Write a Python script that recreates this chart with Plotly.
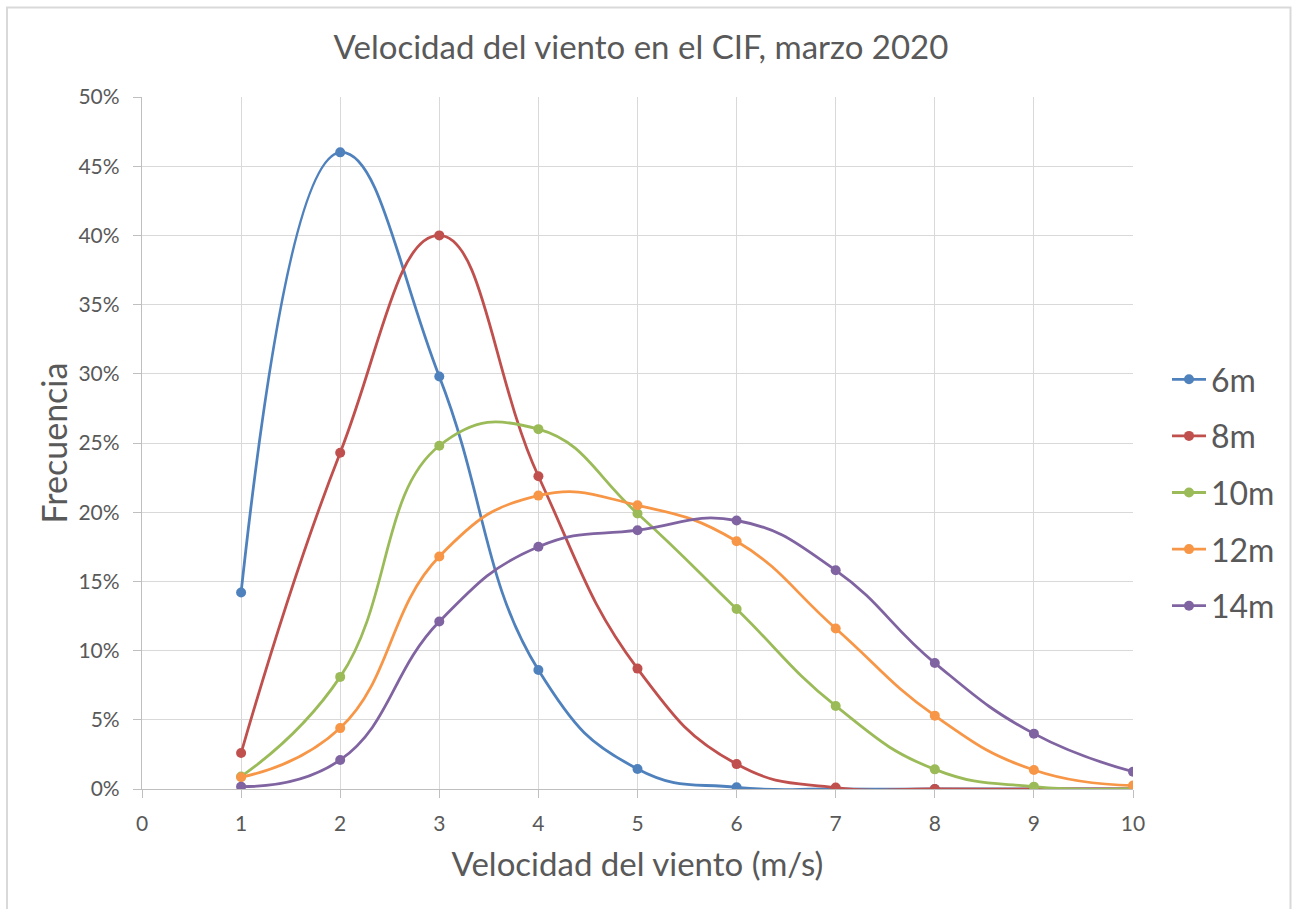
import plotly.graph_objects as go

speeds = [1, 2, 3, 4, 5, 6, 7, 8, 9, 10]
freq_6m = [0.142, 0.460, 0.298, 0.086, 0.0145, 0.0012, 0.0, 0.0, 0.0, 0.0]
freq_8m = [0.026, 0.243, 0.400, 0.226, 0.087, 0.018, 0.001, 0.0, 0.0, 0.0]
freq_10m = [0.009, 0.081, 0.248, 0.260, 0.199, 0.130, 0.060, 0.0142, 0.0017, 0.0003]
freq_12m = [0.0085, 0.044, 0.168, 0.212, 0.205, 0.179, 0.116, 0.053, 0.0137, 0.0025]
freq_14m = [0.0017, 0.021, 0.121, 0.175, 0.187, 0.194, 0.158, 0.091, 0.040, 0.0125]

series_names = ["6m", "8m", "10m", "12m", "14m"]
series_values = [freq_6m, freq_8m, freq_10m, freq_12m, freq_14m]
colors = ["#4F81BD", "#C0504D", "#9BBB59", "#F79646", "#8064A2"]

x_ticks = list(range(0, 11))
y_ticks = [0, 0.05, 0.10, 0.15, 0.20, 0.25, 0.30, 0.35, 0.40, 0.45, 0.50]

FONT = "Lato"
TXT = "#595959"
GRID = "#d9d9d9"

fig = go.Figure()
for name, vals, col in zip(series_names, series_values, colors):
    fig.add_trace(go.Scatter(
        x=speeds, y=vals, name=name, mode="lines+markers",
        line=dict(color=col, width=2.8, shape="spline", smoothing=1.3),
        marker=dict(color=col, size=10),
        legendgroup=name,
    ))

W, H = 1296, 909
L, R, T, B = 142, 163, 97, 120
pw, ph = W - L - R, H - T - B

def px2paper_x(px):
    return (px - L) / pw

def px2paper_y(py):
    return (H - B - py) / ph

fig.update_layout(
    width=W, height=H,
    margin=dict(l=L, r=R, t=T, b=B, autoexpand=False),
    paper_bgcolor="white", plot_bgcolor="white",
    font=dict(family=FONT, color=TXT),
    title=dict(text="Velocidad del viento en el CIF, marzo 2020",
               x=px2paper_x(641), xref="paper", xanchor="center",
               y=1 - 47 / H, yanchor="middle", yref="container",
               font=dict(size=33, color=TXT, family=FONT)),
    xaxis=dict(
        range=[0, 10], tickvals=x_ticks, ticktext=[str(v) for v in x_ticks],
        showgrid=True, gridcolor=GRID, gridwidth=1.3,
        showline=True, linecolor="#bfbfbf", linewidth=1.3,
        ticks="outside", ticklen=8, tickcolor="#bfbfbf",
        ticklabelstandoff=8,
        tickfont=dict(size=21, color=TXT), zeroline=False,
        title=dict(text="Velocidad del viento (m/s)", font=dict(size=33, color=TXT), standoff=18),
    ),
    yaxis=dict(
        range=[0, 0.5], tickvals=y_ticks, tickformat=".0%",
        showgrid=True, gridcolor=GRID, gridwidth=1.3,
        showline=True, linecolor="#bfbfbf", linewidth=1.3,
        ticks="outside", ticklen=8, tickcolor="#bfbfbf",
        ticklabelstandoff=9,
        tickfont=dict(size=21, color=TXT), zeroline=False,
        title=dict(text="Frecuencia", font=dict(size=34, color=TXT), standoff=0),
    ),
    legend=dict(
        x=px2paper_x(1167), xanchor="left", y=px2paper_y(352), yanchor="top",
        font=dict(size=32, color=TXT, family=FONT),
        traceorder="grouped", tracegroupgap=12,
        bgcolor="rgba(0,0,0,0)", itemwidth=34,
    ),
    shapes=[dict(
        type="rect", xref="paper", yref="paper",
        x0=px2paper_x(7), x1=px2paper_x(1290.5),
        y0=px2paper_y(930), y1=px2paper_y(7.5),
        line=dict(color="#d9d9d9", width=2), fillcolor="rgba(0,0,0,0)",
        layer="below",
    )],
)

fig.write_html("out.html", config={"displayModeBar": False},
               post_script="document.body.style.margin='0';")
